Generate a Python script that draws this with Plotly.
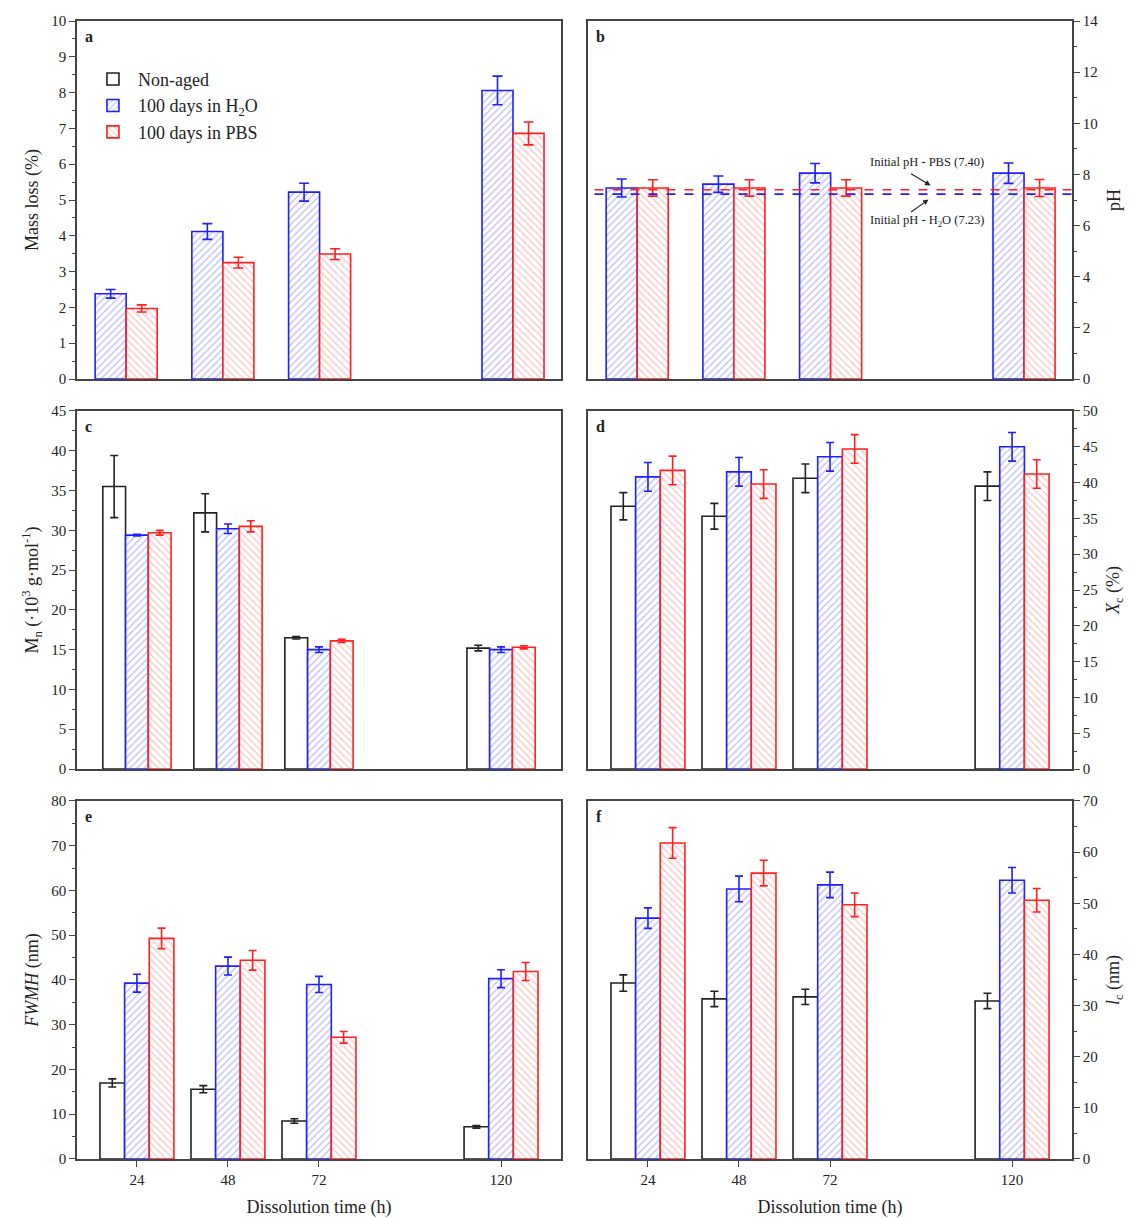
import plotly.graph_objects as go

times = [24, 48, 72, 120]
series_names = ["Non-aged", "100 days in H<sub>2</sub>O", "100 days in PBS"]

# Panel a: mass loss (%)
ml_h2o = [2.38, 4.12, 5.22, 8.06]
ml_h2o_err = [0.12, 0.22, 0.25, 0.40]
ml_pbs = [1.97, 3.25, 3.49, 6.86]
ml_pbs_err = [0.10, 0.15, 0.15, 0.32]

# Panel b: pH
ph_h2o = [7.47, 7.62, 8.05, 8.05]
ph_h2o_err = [0.35, 0.32, 0.38, 0.40]
ph_pbs = [7.47, 7.47, 7.47, 7.47]
ph_pbs_err = [0.32, 0.32, 0.32, 0.33]
ph_init_pbs = 7.40
ph_init_h2o = 7.23

# Panel c: Mn (10^3 g/mol)
mn_non = [35.5, 32.2, 16.5, 15.2]
mn_non_err = [3.9, 2.4, 0.15, 0.35]
mn_h2o = [29.4, 30.2, 15.0, 15.0]
mn_h2o_err = [0.1, 0.6, 0.35, 0.35]
mn_pbs = [29.7, 30.5, 16.1, 15.3]
mn_pbs_err = [0.3, 0.7, 0.2, 0.2]

# Panel d: Xc (%)
xc_non = [36.7, 35.3, 40.6, 39.5]
xc_non_err = [1.9, 1.8, 2.0, 2.0]
xc_h2o = [40.8, 41.5, 43.6, 45.0]
xc_h2o_err = [2.0, 2.0, 2.0, 2.0]
xc_pbs = [41.7, 39.8, 44.7, 41.2]
xc_pbs_err = [2.0, 2.0, 2.0, 2.0]

# Panel e: FWMH (nm)
fw_non = [17.0, 15.6, 8.5, 7.2]
fw_non_err = [0.9, 0.8, 0.5, 0.3]
fw_h2o = [39.3, 43.1, 39.0, 40.3]
fw_h2o_err = [2.0, 2.0, 1.8, 2.0]
fw_pbs = [49.3, 44.4, 27.2, 41.9]
fw_pbs_err = [2.3, 2.2, 1.3, 2.0]

# Panel f: lc (nm)
lc_non = [34.4, 31.3, 31.7, 30.9]
lc_non_err = [1.6, 1.5, 1.5, 1.5]
lc_h2o = [47.1, 52.8, 53.6, 54.5]
lc_h2o_err = [2.0, 2.5, 2.5, 2.5]
lc_pbs = [61.8, 55.9, 49.7, 50.6]
lc_pbs_err = [3.0, 2.5, 2.3, 2.3]

BLUE = "#1f1fff"
RED = "#ff2020"
BLACK = "#222222"
AX = "#444444"
FONT = "Liberation Serif"

BLUE_PAT = dict(shape="/", fgcolor="rgba(40,40,255,0.6)", bgcolor="white", size=5, solidity=0.28)
RED_PAT = dict(shape="\\", fgcolor="rgba(255,60,60,0.6)", bgcolor="white", size=5, solidity=0.28)

fig = go.Figure()


def bar(xa, ya, y, err, kind, offset, width, cap=5):
    if kind == 0:
        color, pattern = BLACK, dict(shape="")
    elif kind == 1:
        color, pattern = BLUE, BLUE_PAT
    else:
        color, pattern = RED, RED_PAT
    fig.add_trace(go.Bar(
        x=times, y=y, xaxis=xa, yaxis=ya, name=series_names[kind],
        offset=offset, width=width,
        marker=dict(color="white", line=dict(color=color, width=1.6), pattern=pattern),
        error_y=dict(type="data", array=err, color=color, thickness=1.6, width=cap),
        showlegend=False,
    ))


# a / b: two bars per group
wab = 7.7
bar("x", "y", ml_h2o, ml_h2o_err, 1, -wab, wab)
bar("x", "y", ml_pbs, ml_pbs_err, 2, 0, wab)
bar("x2", "y2", ph_h2o, ph_h2o_err, 1, -wab, wab)
bar("x2", "y2", ph_pbs, ph_pbs_err, 2, 0, wab)

# c-f: three bars per group
for xa, ya, w, data in [
    ("x3", "y3", 6.0, [(mn_non, mn_non_err), (mn_h2o, mn_h2o_err), (mn_pbs, mn_pbs_err)]),
    ("x4", "y4", 6.5, [(xc_non, xc_non_err), (xc_h2o, xc_h2o_err), (xc_pbs, xc_pbs_err)]),
    ("x5", "y5", 6.5, [(fw_non, fw_non_err), (fw_h2o, fw_h2o_err), (fw_pbs, fw_pbs_err)]),
    ("x6", "y6", 6.5, [(lc_non, lc_non_err), (lc_h2o, lc_h2o_err), (lc_pbs, lc_pbs_err)]),
]:
    for k, (vals, errs) in enumerate(data):
        bar(xa, ya, vals, errs, k, (-1.5 + k) * w, w, cap=4)

# legend-only traces (for a-panel legend)
for k in range(3):
    if k == 0:
        m = dict(color="white", line=dict(color=BLACK, width=1.6))
    elif k == 1:
        m = dict(color="white", line=dict(color=BLUE, width=1.6), pattern=BLUE_PAT)
    else:
        m = dict(color="white", line=dict(color=RED, width=1.6), pattern=RED_PAT)
    fig.add_trace(go.Bar(x=[None], y=[None], xaxis="x", yaxis="y", name=series_names[k],
                         marker=m, showlegend=True, legendrank=k))

# initial pH lines
fig.add_trace(go.Scatter(x=[0, 200], y=[ph_init_pbs, ph_init_pbs], xaxis="x2", yaxis="y2",
                         mode="lines", line=dict(color=RED, width=1.6, dash="dash"), showlegend=False))
fig.add_trace(go.Scatter(x=[0, 200], y=[ph_init_h2o, ph_init_h2o], xaxis="x2", yaxis="y2",
                         mode="lines", line=dict(color=BLUE, width=1.6, dash="dash"), showlegend=False))

L, R = [0, 0.4864], [0.5136, 1.0]
R1, R2, R3 = [0.6854, 1.0], [0.3427, 0.6573], [0.0, 0.3146]
rng_ab = [11.8, 131.9]
rng_cf = [8.2, 135.8]

tickfont = dict(family=FONT, size=15, color=BLACK)
titlefont = dict(family=FONT, size=18, color=BLACK)


def xax(dom, anchor, rng, bottom):
    d = dict(domain=dom, anchor=anchor, range=rng, showline=True, linecolor=AX, linewidth=1.6,
             mirror=True, showgrid=False, zeroline=False, fixedrange=True, automargin=False)
    if bottom:
        d.update(tickmode="array", tickvals=times, ticktext=[str(t) for t in times],
                 ticks="outside", ticklen=6, tickwidth=1.4, tickcolor=AX, tickfont=tickfont,
                 title=dict(text="Dissolution time (h)", font=titlefont, standoff=14))
    else:
        d.update(showticklabels=False, ticks="")
    return d


def yax(dom, anchor, rng, dtick, minor, title, side):
    return dict(domain=dom, anchor=anchor, range=rng, side=side, showline=True, linecolor=AX,
                linewidth=1.6, mirror=True, showgrid=False, zeroline=False, dtick=dtick, tick0=0,
                ticks="outside", ticklen=6, tickwidth=1.4, tickcolor=AX, tickfont=tickfont,
                minor=dict(dtick=minor, ticks="outside", ticklen=3, tickwidth=1.2, tickcolor=AX),
                title=dict(text=title, font=titlefont, standoff=10 if side == "right" else 8),
                fixedrange=True, automargin=False)


fig.update_layout(
    width=1138, height=1219,
    margin=dict(l=77, r=66, t=21, b=60),
    paper_bgcolor="white", plot_bgcolor="white",
    barmode="overlay",
    font=dict(family=FONT, color=BLACK),
    xaxis=xax(L, "y", rng_ab, False),
    yaxis=yax(R1, "x", [0, 10], 1, 0.5, "Mass loss (%)", "left"),
    xaxis2=xax(R, "y2", rng_ab, False),
    yaxis2=yax(R1, "x2", [0, 14], 2, 1, "pH", "right"),
    xaxis3=xax(L, "y3", rng_cf, False),
    yaxis3=yax(R2, "x3", [0, 45], 5, 2.5, "M<sub>n</sub> (·10<sup>3</sup> g·mol<sup>-1</sup>)", "left"),
    xaxis4=xax(R, "y4", rng_cf, False),
    yaxis4=yax(R2, "x4", [0, 50], 5, 2.5, "<i>X</i><sub>c</sub> (%)", "right"),
    xaxis5=xax(L, "y5", rng_cf, True),
    yaxis5=yax(R3, "x5", [0, 80], 10, 5, "<i>FWMH</i> (nm)", "left"),
    xaxis6=xax(R, "y6", rng_cf, True),
    yaxis6=yax(R3, "x6", [0, 70], 10, 5, "<i>l</i><sub>c</sub> (nm)", "right"),
    legend=dict(x=0.011, y=0.965, xanchor="left", yanchor="top", bgcolor="rgba(0,0,0,0)",
                font=dict(family=FONT, size=18, color=BLACK), tracegroupgap=2,
                itemwidth=40, traceorder="normal"),
    showlegend=True,
)

# panel letters
letters = ["a", "b", "c", "d", "e", "f"]
axes_ids = ["", "2", "3", "4", "5", "6"]
for let, a in zip(letters, axes_ids):
    fig.add_annotation(text="<b>%s</b>" % let, xref="x%s domain" % a, yref="y%s domain" % a,
                       x=0.012, y=0.985, xanchor="left", yanchor="top", showarrow=False,
                       font=dict(family=FONT, size=16, color=BLACK))

# pH annotations
fig.add_annotation(text="Initial pH - PBS (7.40)", xref="x2", yref="y2", x=96, y=8.49,
                   showarrow=False, font=dict(family=FONT, size=12.5, color=BLACK))
fig.add_annotation(text="Initial pH - H<sub>2</sub>O (7.23)", xref="x2", yref="y2", x=96, y=6.18,
                   showarrow=False, font=dict(family=FONT, size=12.5, color=BLACK))
fig.add_annotation(text="", xref="x2", yref="y2", axref="x2", ayref="y2",
                   x=96.8, y=7.57, ax=91.6, ay=8.06, showarrow=True, arrowhead=2,
                   arrowsize=1, arrowwidth=1.1, arrowcolor=BLACK)
fig.add_annotation(text="", xref="x2", yref="y2", axref="x2", ayref="y2",
                   x=96.3, y=7.02, ax=91.6, ay=6.49, showarrow=True, arrowhead=2,
                   arrowsize=1, arrowwidth=1.1, arrowcolor=BLACK)

fig.write_html("out.html")
